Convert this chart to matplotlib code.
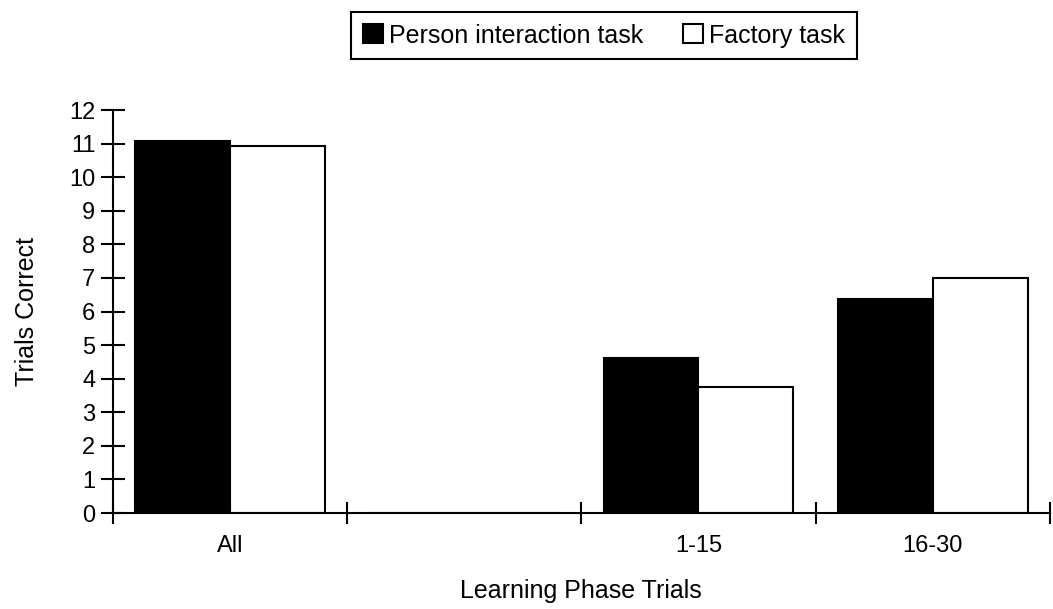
import numpy as np
import matplotlib.pyplot as plt

plt.rcParams['font.family'] = ['Liberation Sans', 'DejaVu Sans']

categories = ["All", "", "1-15", "16-30"]
person = [11.07, 0.0, 4.63, 6.37]
factory = [10.93, 0.0, 3.76, 7.0]

fig = plt.figure(figsize=(10.53, 6.09), dpi=100)
ax = fig.add_axes([0.107, 0.1576, 0.890, 0.6617])

x = np.arange(len(categories))
w = 0.405
ax.bar(x - w / 2, person, w, color="black", edgecolor="black", linewidth=1.5,
       label="Person interaction task")
ax.bar(x + w / 2, factory, w, color="white", edgecolor="black", linewidth=1.5,
       label="Factory task")

ax.set_xlim(-0.5, len(categories) - 0.5)
ax.set_ylim(0, 12)
ax.set_yticks(range(0, 13))
ax.tick_params(axis="y", direction="inout", length=17, width=1.5, labelsize=17, pad=4)

# boundaries get tick marks, category centres get the labels
ax.set_xticks(np.arange(len(categories) + 1) - 0.5)
ax.set_xticklabels([])
ax.set_xticks(x, minor=True)
ax.set_xticklabels(categories, minor=True)
ax.tick_params(axis="x", which="major", direction="inout", length=16, width=1.5)
ax.tick_params(axis="x", which="minor", length=0, labelsize=17, pad=16)

for s in ["top", "right"]:
    ax.spines[s].set_visible(False)
for s in ["left", "bottom"]:
    ax.spines[s].set_linewidth(1.5)

ax.set_ylabel("Trials Correct", fontsize=18, labelpad=22)
ax.set_xlabel("Learning Phase Trials", fontsize=18, labelpad=16)

leg = fig.legend(loc="center", bbox_to_anchor=(0.5736, 0.9417), ncol=2, fontsize=18,
                 frameon=True, fancybox=False, edgecolor="black", framealpha=1,
                 handlelength=0.8, handleheight=0.8, handletextpad=0.25,
                 columnspacing=1.6, borderpad=0.45)
leg.get_frame().set_linewidth(1.5)

fig.savefig("out.png", dpi=100)
